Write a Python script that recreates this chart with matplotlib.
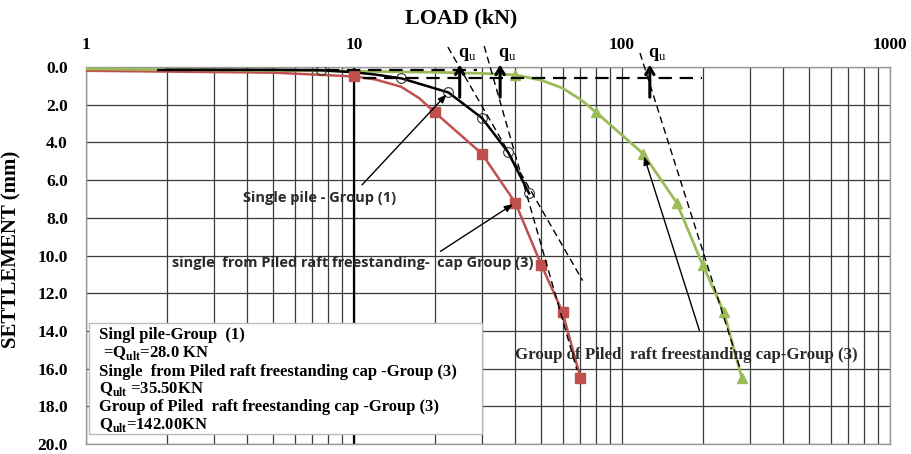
import numpy as np
import matplotlib
matplotlib.use("Agg")
import matplotlib.pyplot as plt
from matplotlib.patches import Rectangle

plt.rcParams['font.family'] = ['Liberation Serif', 'DejaVu Serif']
plt.rcParams['mathtext.fontset'] = 'custom'
plt.rcParams['mathtext.rm'] = 'Liberation Serif'
plt.rcParams['mathtext.bf'] = 'Liberation Serif:bold'

# ---- data ----
# single pile - group (1), open circles
black_load = [7.5, 15, 22.5, 30, 37.5, 45]
black_sett = [0.15, 0.6, 1.35, 2.7, 4.5, 6.7]
black_curve_load = [2, 5, 7.5, 10, 12, 15, 22.5, 30, 37.5, 45]
black_curve_sett = [0.15, 0.15, 0.17, 0.28, 0.4, 0.6, 1.35, 2.7, 4.5, 6.7]

# single from piled raft freestanding cap - group (3), squares
red_load = [10, 20, 30, 40, 50, 60, 70]
red_sett = [0.5, 2.4, 4.6, 7.2, 10.5, 13.0, 16.5]
red_curve_load = [1, 5, 10, 12, 15, 17.5, 20, 30, 40, 50, 60, 70]
red_curve_sett = [0.2, 0.3, 0.5, 0.66, 1.05, 1.65, 2.4, 4.6, 7.2, 10.5, 13.0, 16.5]

# group of piled raft freestanding cap - group (3), triangles
green_load = [40, 80, 120, 160, 200, 240, 280]
green_sett = [0.42, 2.4, 4.6, 7.2, 10.5, 13.0, 16.5]
green_curve_load = [1, 10, 20, 30, 40, 50, 60, 70, 80, 120, 160, 200, 240, 280]
green_curve_sett = [0.1, 0.22, 0.28, 0.34, 0.42, 0.7, 1.12, 1.72, 2.4, 4.6, 7.2, 10.5, 13.0, 16.5]

# construction lines
upper_dash_load = [1.84, 28.7]
upper_dash_sett = [0.18, 0.18]
lower_dash_load = [10.8, 198]
lower_dash_sett = [0.6, 0.6]
tangent_lines = [([22.4, 71.3], [-1.06, 11.33]),
                 ([30.6, 67.9], [-1.11, 16.07]),
                 ([116.7, 275.5], [-0.74, 15.97])]
qu_load = [24.8, 35.1, 127]

x_ticks = [1, 10, 100, 1000]
y_ticks = np.arange(0, 21, 2)

fig = plt.figure(figsize=(9.12, 4.54), dpi=100)
ax = fig.add_axes([86 / 912, 1 - 444 / 454, 804 / 912, 377 / 454])

ax.set_xscale('log')
ax.set_xlim(1, 1000)
ax.set_ylim(20, 0)

# grid
minor = [m * d for d in [1, 10, 100] for m in range(2, 10)]
ax.set_xticks(x_ticks)
ax.set_xticks(minor, minor=True)
ax.set_xticklabels([str(t) for t in x_ticks])
ax.set_yticks(y_ticks)
ax.set_yticklabels(['%.1f' % v for v in y_ticks])
ax.grid(which='both', axis='x', color='#3a3a3a', lw=0.9)
ax.grid(which='major', axis='y', color='#3a3a3a', lw=0.9)
ax.axvline(10, color='black', lw=1.6)
ax.set_axisbelow(True)
for s in ax.spines.values():
    s.set_color('#999999')
    s.set_linewidth(1.0)

ax.xaxis.tick_top()
ax.tick_params(axis='x', which='both', length=0, pad=10, labelsize=12.5)
ax.tick_params(axis='y', length=0, pad=13, labelsize=12.5)
for lab in ax.get_xticklabels() + ax.get_yticklabels():
    lab.set_fontweight('bold')

ax.set_ylabel('SETTLEMENT (mm)', fontsize=15, fontweight='bold')
ax.yaxis.set_label_coords(-0.08, 0.517)
fig.text(461 / 912, 1 - 18 / 454, 'LOAD (kN)', fontsize=15.8, fontweight='bold',
         ha='center', va='center')

# curves
red_c = '#C0504D'
green_c = '#9BBB59'
ax.plot(red_curve_load, red_curve_sett, color=red_c, lw=1.8, zorder=3)
ax.plot(red_load, red_sett, ls='none', marker='s', ms=7, color=red_c, zorder=4)
ax.plot(green_curve_load, green_curve_sett, color=green_c, lw=2.0, zorder=3)
ax.plot(green_load, green_sett, ls='none', marker='^', ms=7, color=green_c, zorder=4)
ax.plot(black_curve_load, black_curve_sett, color='black', lw=1.8, zorder=3)
ax.plot(black_load, black_sett, ls='none', marker='o', ms=7, mfc='none',
        mec='#333333', mew=0.8, zorder=4)

# construction lines
ax.plot(upper_dash_load, upper_dash_sett, color='black', lw=1.6,
        dashes=(6, 3.5), zorder=5, clip_on=False)
ax.plot(lower_dash_load, lower_dash_sett, color='black', lw=1.6,
        dashes=(6, 3.5), zorder=5, clip_on=False)
for tl, ts in tangent_lines:
    ax.plot(tl, ts, color='black', lw=1.0, dashes=(5, 3), zorder=5, clip_on=False)

# qu arrows
for q in qu_load:
    ax.annotate('', xy=(q, -0.27), xytext=(q, 1.75),
                arrowprops=dict(arrowstyle='->,head_length=0.5,head_width=0.3',
                                color='black', lw=2.2),
                annotation_clip=False, zorder=6)
    ax.text(q * 0.985, -0.2, r'$\mathbf{q}_{\mathrm{u}}$', fontsize=13,
            ha='left', va='bottom', zorder=6, clip_on=False)

# annotations
arrow_kw = dict(arrowstyle='-|>,head_length=0.5,head_width=0.2', color='black', lw=1.0)
ax.annotate('', xy=(black_load[2], black_sett[2]), xytext=(0.341, 0.682),
            textcoords='axes fraction', arrowprops=arrow_kw, zorder=6)
ax.text(0.291, 0.6525, 'Single pile - Group (1)', transform=ax.transAxes,
        family=['Open Sans', 'DejaVu Sans'], fontweight='bold', fontsize=10.5,
        ha='center', va='center', color='#2a2a2a', zorder=6)

ax.annotate('', xy=(red_load[3], red_sett[3]), xytext=(0.438, 0.507),
            textcoords='axes fraction', arrowprops=arrow_kw, zorder=6)
ax.text(0.107, 0.480, 'single  from Piled raft freestanding-  cap Group (3)',
        transform=ax.transAxes, family=['Open Sans', 'DejaVu Sans'],
        fontweight='bold', fontsize=10.5, ha='left', va='center',
        color='#2a2a2a', zorder=6)

ax.annotate('', xy=(green_load[2], green_sett[2]), xytext=(0.764, 0.294),
            textcoords='axes fraction', arrowprops=arrow_kw, zorder=6)
ax.text(0.5336, 0.236, 'Group of Piled  raft freestanding cap-Group (3)',
        transform=ax.transAxes, fontweight='bold', fontsize=12.2,
        ha='left', va='center', color='#2a2a2a', zorder=6)

# info box
ax.add_patch(Rectangle((0.004, 0.0265), 0.4885, 0.2945, transform=ax.transAxes,
                       facecolor='white', edgecolor='#bbbbbb', lw=1.0, zorder=7))
info_lines = ['Singl pile-Group  (1)',
              r' =Q$_{\mathbf{ult}}$=28.0 KN',
              'Single  from Piled raft freestanding cap -Group (3)',
              r'Q$_{\mathbf{ult}}$ =35.50KN',
              'Group of Piled  raft freestanding cap -Group (3)',
              r'Q$_{\mathbf{ult}}$=142.00KN']
info_y = [0.289, 0.241, 0.191, 0.146, 0.098, 0.050]
for t, yy in zip(info_lines, info_y):
    ax.text(0.016, yy, t, transform=ax.transAxes, fontsize=12,
            fontweight='bold', ha='left', va='center', zorder=8)

fig.savefig('out.png', dpi=100)
